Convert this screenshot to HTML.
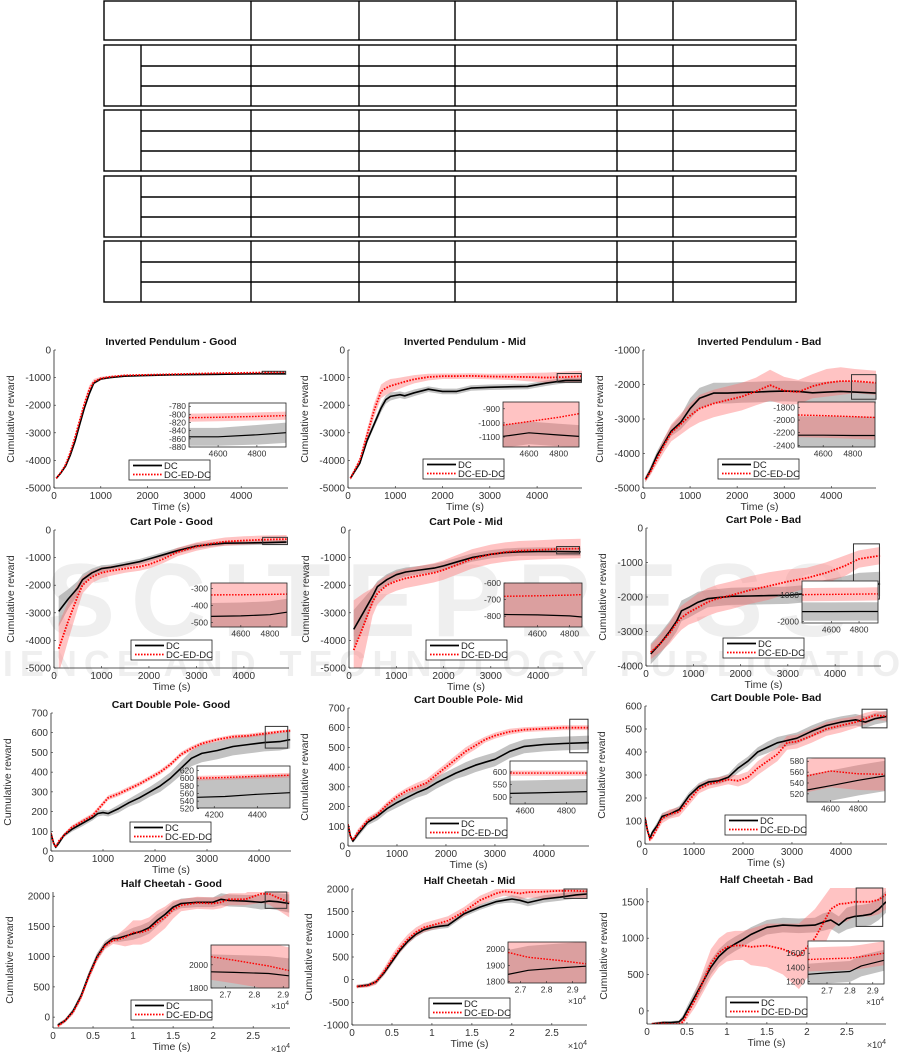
<!DOCTYPE html>
<html><head><meta charset="utf-8">
<style>
html,body{margin:0;padding:0;background:#fff;}
svg{display:block;font-family:"Liberation Sans","DejaVu Sans",sans-serif;}
</style></head>
<body>
<svg id="fig" width="901" height="1055" viewBox="0 0 901 1055" xmlns="http://www.w3.org/2000/svg">
  <g fill="#efefef" font-weight="bold">
    <text x="455" y="636" text-anchor="middle" font-size="104" letter-spacing="16">SCITEPRESS</text>
    <text x="455" y="676" text-anchor="middle" font-size="36" letter-spacing="7">SCIENCE AND TECHNOLOGY PUBLICATIONS</text>
  </g>
  <g fill="none" stroke="#000" stroke-width="1.4">
    <rect x="104" y="1" width="692" height="39"/>
    <line x1="251" y1="1" x2="251" y2="40"/>
    <line x1="359" y1="1" x2="359" y2="40"/>
    <line x1="455" y1="1" x2="455" y2="40"/>
    <line x1="617" y1="1" x2="617" y2="40"/>
    <line x1="673" y1="1" x2="673" y2="40"/>
  </g>
  <g id="tableGroups"></g>
  <g id="plots"></g>
</svg>
<script>
// ===== Inverted Pendulum - Good =====
const ipGoodTime=[50,150,250,350,450,550,650,750,850,1000,1200,1500,2000,2500,3000,3500,4000,4500,4950];
const ipGoodDC=[-4650,-4450,-4200,-3800,-3300,-2700,-2100,-1600,-1200,-1050,-1000,-950,-920,-900,-890,-880,-870,-860,-850];
const ipGoodDCSpread=[40,40,40,50,50,60,60,60,50,40,30,30,30,30,30,30,30,30,30];
const ipGoodED=[-4650,-4430,-4150,-3700,-3150,-2550,-1950,-1450,-1150,-1030,-970,-920,-900,-880,-860,-840,-830,-815,-805];
const ipGoodEDSpread=[40,40,50,60,80,100,120,150,100,60,40,30,20,20,20,20,20,20,20];
const ipGoodInsetTime=[4450,4600,4800,4950];
const ipGoodInsetDC=[-855,-855,-850,-845];
const ipGoodInsetDCSpread=[22,22,24,25];
const ipGoodInsetED=[-808,-807,-805,-803];
const ipGoodInsetEDSpread=[10,10,10,10];
// ===== Inverted Pendulum - Mid =====
const ipMidTime=[50,250,400,550,700,800,900,1000,1100,1200,1400,1700,2000,2300,2600,3000,3500,3800,4200,4600,4950];
const ipMidDC=[-4650,-4100,-3300,-2700,-2100,-1800,-1680,-1650,-1620,-1660,-1550,-1420,-1500,-1500,-1380,-1350,-1330,-1320,-1200,-1100,-1100];
const ipMidDCSpread=[60,80,100,120,150,150,150,130,120,120,120,100,100,100,100,100,100,100,100,100,100];
const ipMidED=[-4650,-4000,-3100,-2200,-1500,-1380,-1300,-1250,-1200,-1150,-1060,-980,-950,-950,-940,-960,-970,-980,-1000,-980,-950];
const ipMidEDSpread=[60,100,200,250,250,250,250,220,200,180,150,120,100,100,100,100,120,150,180,200,200];
const ipMidInsetTime=[4425,4600,4800,4937];
const ipMidInsetDC=[-1095,-1070,-1085,-1095];
const ipMidInsetDCSpread=[80,80,80,80];
const ipMidInsetED=[-1015,-990,-960,-935];
const ipMidInsetEDSpread=[230,230,230,230];
// ===== Inverted Pendulum - Bad =====
const ipBadTime=[50,150,300,450,600,800,1000,1200,1500,1800,2100,2400,2700,3000,3300,3600,3900,4200,4500,4950];
const ipBadDC=[-4750,-4500,-4050,-3700,-3350,-3100,-2700,-2400,-2250,-2250,-2230,-2220,-2200,-2190,-2200,-2240,-2220,-2200,-2220,-2250];
const ipBadDCSpread=[80,100,120,150,150,200,300,300,300,300,300,300,300,300,300,300,300,300,300,300];
const ipBadED=[-4750,-4550,-4150,-3750,-3400,-3150,-2900,-2700,-2550,-2450,-2350,-2200,-2020,-2180,-2220,-2050,-1950,-1900,-1900,-1950];
const ipBadEDSpread=[80,100,150,200,250,300,350,400,400,400,400,400,450,400,350,350,400,400,350,350];
const ipBadInsetTime=[4430,4600,4800,4950];
const ipBadInsetDC=[-2240,-2240,-2245,-2245];
const ipBadInsetDCSpread=[300,300,300,300];
const ipBadInsetED=[-1920,-1930,-1945,-1960];
const ipBadInsetEDSpread=[350,350,350,350];
// ===== Cart Pole - Good =====
const cpGoodTime=[100,300,500,600,800,1000,1200,1500,1800,2000,2300,2600,3000,3300,3600,4000,4400,4900];
const cpGoodDC=[-2950,-2500,-2100,-1800,-1550,-1400,-1350,-1250,-1150,-1050,-900,-750,-580,-520,-480,-470,-460,-440];
const cpGoodDCSpread=[550,350,250,200,150,120,100,100,100,100,100,100,100,80,80,80,80,80];
const cpGoodED=[-4300,-3300,-2400,-2000,-1700,-1550,-1480,-1400,-1330,-1250,-1050,-800,-600,-500,-420,-380,-350,-330];
const cpGoodEDSpread=[900,700,450,300,220,200,180,150,150,150,150,150,150,150,150,150,150,150];
const cpGoodInsetTime=[4395,4600,4800,4917];
const cpGoodInsetDC=[-465,-462,-455,-440];
const cpGoodInsetDCSpread=[80,80,80,80];
const cpGoodInsetED=[-337,-336,-334,-332];
const cpGoodInsetEDSpread=[200,200,200,200];
// ===== Cart Pole - Mid =====
const cpMidTime=[100,300,500,600,800,1000,1200,1500,1800,2000,2300,2600,3000,3300,3600,4000,4400,4900];
const cpMidDC=[-3600,-3000,-2400,-2050,-1800,-1620,-1520,-1450,-1380,-1300,-1150,-1000,-880,-820,-790,-780,-780,-790];
const cpMidDCSpread=[700,500,300,200,200,180,160,150,150,150,150,150,150,150,150,150,150,150];
const cpMidED=[-4350,-3500,-2600,-2300,-2000,-1850,-1750,-1650,-1550,-1450,-1250,-1050,-880,-800,-750,-720,-690,-670];
const cpMidEDSpread=[1800,1200,500,400,350,350,350,350,350,350,350,350,350,350,350,350,350,350];
const cpMidInsetTime=[4392,4600,4800,4877];
const cpMidInsetDC=[-790,-792,-798,-805];
const cpMidInsetDCSpread=[300,300,300,300];
const cpMidInsetED=[-680,-677,-673,-670];
const cpMidInsetEDSpread=[400,400,400,400];
// ===== Cart Pole - Bad =====
const cpBadTime=[100,300,500,650,750,900,1100,1300,1500,1800,2200,2600,3000,3400,3800,4200,4500,4950];
const cpBadDC=[-3650,-3350,-3000,-2700,-2400,-2300,-2150,-2050,-2020,-1980,-1970,-1960,-1950,-1900,-1800,-1750,-1650,-1620];
const cpBadDCSpread=[300,300,300,300,300,300,300,250,250,250,250,250,250,250,300,350,350,350];
const cpBadED=[-3600,-3350,-3050,-2750,-2600,-2450,-2300,-2150,-2050,-1950,-1800,-1680,-1550,-1450,-1300,-1100,-900,-800];
const cpBadEDSpread=[200,250,300,350,350,350,400,400,400,400,400,400,350,300,300,300,250,250];
const cpBadInsetTime=[4388,4600,4800,4937];
const cpBadInsetDC=[-1625,-1625,-1620,-1620];
const cpBadInsetDCSpread=[350,350,350,350];
const cpBadInsetED=[-980,-970,-960,-950];
const cpBadInsetEDSpread=[250,250,250,250];
// ===== Cart Double Pole - Good =====
const cdpGoodTime=[0,50,90,150,250,400,600,800,900,1000,1100,1300,1500,1700,1900,2100,2300,2500,2700,2900,3200,3500,3800,4100,4400,4600];
const cdpGoodDC=[90,40,20,40,80,110,140,170,190,195,190,215,245,270,300,330,370,420,470,495,510,530,540,550,555,565];
const cdpGoodDCSpread=[10,10,10,10,10,12,15,15,15,15,15,20,20,25,25,30,30,35,40,45,45,45,45,45,45,45];
const cdpGoodED=[90,40,20,50,80,120,150,180,210,240,270,290,315,340,370,400,440,490,520,545,565,580,585,595,605,610];
const cdpGoodEDSpread=[8,8,8,8,10,10,12,12,12,12,12,12,12,12,12,12,12,12,12,10,10,10,10,10,8,8];
const cdpGoodInsetTime=[4120,4250,4400,4552];
const cdpGoodInsetDC=[550,552,558,562];
const cdpGoodInsetDCSpread=[48,48,48,48];
const cdpGoodInsetED=[600,602,605,608];
const cdpGoodInsetEDSpread=[6,6,6,6];
// ===== Cart Double Pole - Mid =====
const cdpMidTime=[0,50,100,200,400,600,800,1000,1200,1400,1600,1800,2000,2200,2400,2600,2800,3000,3300,3600,4000,4400,4950];
const cdpMidDC=[110,50,25,60,120,150,190,220,245,270,290,320,345,370,390,410,425,440,480,505,515,520,525];
const cdpMidDCSpread=[10,10,10,15,15,20,20,25,25,25,30,30,30,30,35,35,35,35,35,35,35,35,35];
const cdpMidED=[110,50,30,70,130,160,210,250,280,300,320,360,400,440,480,510,540,560,580,590,595,600,600];
const cdpMidEDSpread=[10,10,10,15,15,15,15,15,15,20,20,20,20,20,20,20,15,15,15,12,12,12,12];
const cdpMidInsetTime=[4527,4650,4800,4900];
const cdpMidInsetDC=[515,517,520,522];
const cdpMidInsetDCSpread=[50,50,50,50];
const cdpMidInsetED=[595,595,595,595];
const cdpMidInsetEDSpread=[10,10,10,10];
// ===== Cart Double Pole - Bad =====
const cdpBadTime=[0,50,100,150,250,350,500,700,900,1100,1300,1500,1700,1900,2100,2300,2500,2700,2900,3100,3400,3700,4000,4300,4500,4700,4940];
const cdpBadDC=[115,60,25,50,80,120,130,150,210,250,270,275,290,330,360,400,420,440,450,460,490,515,530,540,530,545,555];
const cdpBadDCSpread=[10,10,10,10,15,15,15,15,15,15,15,15,15,20,20,20,25,25,25,25,25,25,25,25,25,25,25];
const cdpBadED=[115,60,20,30,70,110,130,140,190,240,260,270,280,275,290,330,360,390,440,445,470,500,515,530,545,560,555];
const cdpBadEDSpread=[10,10,10,10,15,20,20,20,20,20,20,20,20,25,25,30,30,30,30,30,30,30,30,25,25,20,20];
const cdpBadInsetTime=[4431,4600,4800,4993];
const cdpBadInsetDC=[527,535,545,553];
const cdpBadInsetDCSpread=[28,28,28,28];
const cdpBadInsetED=[553,562,557,556];
const cdpBadInsetEDSpread=[30,30,30,30];
// ===== Half Cheetah - Good =====
const hcGoodTime=[600,1500,2500,3500,4500,5500,6500,7500,8000,9000,10000,11000,12000,13000,14000,15000,16000,18000,20000,21000,22000,24000,26000,27000,28000,29500];
const hcGoodDC=[-130,-60,100,350,700,1000,1200,1300,1300,1340,1380,1420,1480,1600,1700,1820,1880,1900,1900,1950,1930,1920,1900,1920,1910,1880];
const hcGoodDCSpread=[30,30,40,50,60,60,60,50,60,80,100,100,100,100,80,80,80,80,80,100,100,100,120,130,140,150];
const hcGoodED=[-150,-60,80,330,680,980,1180,1270,1280,1320,1400,1400,1450,1560,1650,1780,1850,1890,1880,1900,1950,1950,2040,2040,1980,1900];
const hcGoodEDSpread=[30,30,40,50,60,60,60,60,80,150,200,200,200,200,180,150,100,100,100,100,100,100,150,180,200,250];
const hcGoodInsetTime=[26500,27300,28500,29200];
const hcGoodInsetDC=[1940,1935,1925,1905];
const hcGoodInsetDCSpread=[150,150,150,150];
const hcGoodInsetED=[2070,2040,1990,1950];
const hcGoodInsetEDSpread=[200,200,200,200];
// ===== Half Cheetah - Mid =====
const hcMidTime=[600,2000,3000,4000,5000,6000,7000,8000,9000,10000,11000,12000,14000,16000,18000,19000,20000,21000,22000,24000,26000,28000,29400];
const hcMidDC=[-150,-120,-50,150,400,650,850,1000,1100,1150,1180,1200,1450,1600,1720,1750,1780,1750,1700,1780,1820,1870,1890];
const hcMidDCSpread=[40,40,50,60,60,60,60,60,60,60,60,60,60,60,60,60,80,80,80,80,80,80,80];
const hcMidED=[-150,-130,-50,180,450,700,900,1050,1150,1200,1250,1300,1500,1750,1900,1950,1930,1900,1930,1940,1960,1960,1950];
const hcMidEDSpread=[40,40,60,80,100,100,100,100,100,100,100,100,100,100,100,100,100,120,120,150,150,150,150];
const hcMidInsetTime=[26520,27300,28500,29510];
const hcMidInsetDC=[1845,1870,1885,1895];
const hcMidInsetDCSpread=[150,150,150,150];
const hcMidInsetED=[1980,1950,1930,1910];
const hcMidInsetEDSpread=[250,250,250,250];
// ===== Half Cheetah - Bad =====
const hcBadTime=[600,2000,3000,4000,4500,5000,6000,7000,8000,9000,10000,11000,12000,13000,15000,17000,19000,21000,22000,23000,24000,25000,26000,27000,28000,29000,29900];
const hcBadDC=[-180,-160,-160,-150,-100,0,200,400,600,750,850,920,980,1050,1150,1180,1170,1180,1220,1250,1180,1270,1300,1310,1330,1400,1500];
const hcBadDCSpread=[20,20,20,20,40,60,80,100,100,100,100,100,100,100,100,100,100,100,120,120,120,150,150,150,150,150,150];
const hcBadED=[-180,-170,-180,-180,-150,-50,150,400,650,800,880,900,900,880,900,850,750,1000,1200,1400,1470,1480,1500,1500,1500,1530,1600];
const hcBadEDSpread=[20,20,20,20,40,60,100,150,200,200,200,200,200,250,300,350,450,400,350,300,250,250,200,200,200,200,200];
const hcBadInsetTime=[26170,27000,28000,28500,29490];
const hcBadInsetDC=[1300,1320,1340,1420,1500];
const hcBadInsetDCSpread=[150,150,150,150,150];
const hcBadInsetED=[1510,1520,1530,1550,1600];
const hcBadInsetEDSpread=[170,170,170,170,170];

// tick label arrays
const ticks5k=[0,1000,2000,3000,4000];
const ticksHC=[0,5000,10000,15000,20000,25000];
const ticksHCLabels=['0','0.5','1','1.5','2','2.5'];
const ticksHCInset=[27000,28000,29000];
const ticksHCInsetLabels=['2.7','2.8','2.9'];

const NS='http://www.w3.org/2000/svg';
function mk(tag,attrs,parent){const e=document.createElementNS(NS,tag);for(const k in attrs)e.setAttribute(k,attrs[k]);if(parent)parent.appendChild(e);return e;}

const tg=document.getElementById('tableGroups');
const groupTops=[45,110,176,241];
const colX=[141,251,359,455,617,673];
groupTops.forEach(function(t,gi){
  const g=mk('g',{fill:'none',stroke:'#000','stroke-width':1.4},tg);
  
  
  const r=mk('rect',{x:104,y:t,width:692,height:61},g);
  
  
  colX.forEach(function(cx){const l=mk('line',{x1:cx,y1:t,x2:cx,y2:t+61},g);
    
    });
  [21,41].forEach(function(dy){const l=mk('line',{x1:141,y1:t+dy,x2:796,y2:t+dy},g);
    
    });
});

const plotsG=document.getElementById('plots');
const configs=[
 {key:'ip-good',title:'Inverted Pendulum - Good',L:54,R:288,T:350,B:488,xmin:0,xmax:5000,ymin:-5000,ymax:0,xt:ticks5k,yt:[0,-1000,-2000,-3000,-4000,-5000],
  X:ipGoodTime,DC:ipGoodDC,DCs:ipGoodDCSpread,ED:ipGoodED,EDs:ipGoodEDSpread,
  leg:[129,460],ins:{L:189,R:286,T:403,B:447,xmin:4450,xmax:4950,ymin:-880,ymax:-772,xt:[4600,4800],yt:[-780,-800,-820,-840,-860,-880],X:ipGoodInsetTime,DC:ipGoodInsetDC,DCs:ipGoodInsetDCSpread,ED:ipGoodInsetED,EDs:ipGoodInsetEDSpread}},
 {key:'ip-mid',title:'Inverted Pendulum - Mid',L:348,R:582,T:350,B:488,xmin:0,xmax:4950,ymin:-5000,ymax:0,xt:ticks5k,yt:[0,-1000,-2000,-3000,-4000,-5000],
  X:ipMidTime,DC:ipMidDC,DCs:ipMidDCSpread,ED:ipMidED,EDs:ipMidEDSpread,
  leg:[423,459],ins:{L:503,R:579,T:402,B:447,xmin:4425,xmax:4937,ymin:-1170,ymax:-852,xt:[4600,4800],yt:[-900,-1000,-1100],X:ipMidInsetTime,DC:ipMidInsetDC,DCs:ipMidInsetDCSpread,ED:ipMidInsetED,EDs:ipMidInsetEDSpread}},
 {key:'ip-bad',title:'Inverted Pendulum - Bad',L:643,R:876,T:350,B:488,xmin:0,xmax:4950,ymin:-5000,ymax:-1000,xt:ticks5k,yt:[-1000,-2000,-3000,-4000,-5000],
  X:ipBadTime,DC:ipBadDC,DCs:ipBadDCSpread,ED:ipBadED,EDs:ipBadEDSpread,
  leg:[718,459],ins:{L:798,R:875,T:402,B:447,xmin:4430,xmax:4950,ymin:-2427,ymax:-1714,xt:[4600,4800],yt:[-1800,-2000,-2200,-2400],X:ipBadInsetTime,DC:ipBadInsetDC,DCs:ipBadInsetDCSpread,ED:ipBadInsetED,EDs:ipBadInsetEDSpread}},
 {key:'cp-good',title:'Cart Pole - Good',L:54,R:289,T:530,B:668,xmin:0,xmax:4950,ymin:-5000,ymax:0,xt:ticks5k,yt:[0,-1000,-2000,-3000,-4000,-5000],
  X:cpGoodTime,DC:cpGoodDC,DCs:cpGoodDCSpread,ED:cpGoodED,EDs:cpGoodEDSpread,
  leg:[131,640],ins:{L:211,R:287,T:583,B:627,xmin:4395,xmax:4917,ymin:-528,ymax:-266,xt:[4600,4800],yt:[-300,-400,-500],X:cpGoodInsetTime,DC:cpGoodInsetDC,DCs:cpGoodInsetDCSpread,ED:cpGoodInsetED,EDs:cpGoodInsetEDSpread}},
 {key:'cp-mid',title:'Cart Pole - Mid',L:349,R:583,T:530,B:668,xmin:0,xmax:4950,ymin:-5000,ymax:0,xt:ticks5k,yt:[0,-1000,-2000,-3000,-4000,-5000],
  X:cpMidTime,DC:cpMidDC,DCs:cpMidDCSpread,ED:cpMidED,EDs:cpMidEDSpread,
  leg:[426,640],ins:{L:504,R:582,T:583,B:627,xmin:4392,xmax:4877,ymin:-865,ymax:-600,xt:[4600,4800],yt:[-600,-700,-800],X:cpMidInsetTime,DC:cpMidInsetDC,DCs:cpMidInsetDCSpread,ED:cpMidInsetED,EDs:cpMidInsetEDSpread}},
 {key:'cp-bad',title:'Cart Pole - Bad',L:646,R:881,T:528,B:666,xmin:0,xmax:4970,ymin:-4000,ymax:0,xt:ticks5k,yt:[0,-1000,-2000,-3000,-4000],
  X:cpBadTime,DC:cpBadDC,DCs:cpBadDCSpread,ED:cpBadED,EDs:cpBadEDSpread,
  leg:[723,638],ins:{L:802,R:878,T:581,B:623,xmin:4388,xmax:4937,ymin:-2060,ymax:-460,xt:[4600,4800],yt:[-1000,-2000],X:cpBadInsetTime,DC:cpBadInsetDC,DCs:cpBadInsetDCSpread,ED:cpBadInsetED,EDs:cpBadInsetEDSpread}},
 {key:'cdp-good',title:'Cart Double Pole- Good',L:51,R:291,T:713,B:851,xmin:0,xmax:4615,ymin:0,ymax:700,xt:ticks5k,yt:[0,100,200,300,400,500,600,700],
  X:cdpGoodTime,DC:cdpGoodDC,DCs:cdpGoodDCSpread,ED:cdpGoodED,EDs:cdpGoodEDSpread,
  leg:[130,822],ins:{L:197,R:290,T:766,B:808,xmin:4120,xmax:4552,ymin:522,ymax:632,xt:[4200,4400],yt:[520,540,560,580,600,620],X:cdpGoodInsetTime,DC:cdpGoodInsetDC,DCs:cdpGoodInsetDCSpread,ED:cdpGoodInsetED,EDs:cdpGoodInsetEDSpread}},
 {key:'cdp-mid',title:'Cart Double Pole- Mid',L:348,R:589,T:708,B:846,xmin:0,xmax:4920,ymin:0,ymax:700,xt:ticks5k,yt:[0,100,200,300,400,500,600,700],
  X:cdpMidTime,DC:cdpMidDC,DCs:cdpMidDCSpread,ED:cdpMidED,EDs:cdpMidEDSpread,
  leg:[426,818],ins:{L:510,R:587,T:761,B:804,xmin:4527,xmax:4900,ymin:473,ymax:643,xt:[4600,4800],yt:[500,550,600],X:cdpMidInsetTime,DC:cdpMidInsetDC,DCs:cdpMidInsetDCSpread,ED:cdpMidInsetED,EDs:cdpMidInsetEDSpread}},
 {key:'cdp-bad',title:'Cart Double Pole- Bad',L:645,R:887,T:706,B:844,xmin:0,xmax:4940,ymin:0,ymax:600,xt:ticks5k,yt:[0,100,200,300,400,500,600],
  X:cdpBadTime,DC:cdpBadDC,DCs:cdpBadDCSpread,ED:cdpBadED,EDs:cdpBadEDSpread,
  leg:[725,815],ins:{L:807,R:885,T:758,B:802,xmin:4431,xmax:4993,ymin:505,ymax:586,xt:[4600,4800],yt:[520,540,560,580],X:cdpBadInsetTime,DC:cdpBadInsetDC,DCs:cdpBadInsetDCSpread,ED:cdpBadInsetED,EDs:cdpBadInsetEDSpread}},
 {key:'hc-good',title:'Half Cheetah - Good',L:53,R:290,T:892,B:1028,xmin:0,xmax:29600,ymin:-180,ymax:2070,xt:ticksHC,xtl:ticksHCLabels,yt:[0,500,1000,1500,2000],
  X:hcGoodTime,DC:hcGoodDC,DCs:hcGoodDCSpread,ED:hcGoodED,EDs:hcGoodEDSpread,
  leg:[131,1000],ins:{L:211,R:289,T:945,B:988,xmin:26500,xmax:29200,ymin:1800,ymax:2171,xt:ticksHCInset,xtl:ticksHCInsetLabels,yt:[1800,2000],X:hcGoodInsetTime,DC:hcGoodInsetDC,DCs:hcGoodInsetDCSpread,ED:hcGoodInsetED,EDs:hcGoodInsetEDSpread}},
 {key:'hc-mid',title:'Half Cheetah - Mid',L:352,R:587,T:889,B:1025,xmin:0,xmax:29400,ymin:-1000,ymax:2000,xt:ticksHC,xtl:ticksHCLabels,yt:[-1000,-500,0,500,1000,1500,2000],
  X:hcMidTime,DC:hcMidDC,DCs:hcMidDCSpread,ED:hcMidED,EDs:hcMidEDSpread,
  leg:[429,998],ins:{L:508,R:586,T:942,B:983,xmin:26520,xmax:29510,ymin:1792,ymax:2044,xt:ticksHCInset,xtl:ticksHCInsetLabels,yt:[1800,1900,2000],X:hcMidInsetTime,DC:hcMidInsetDC,DCs:hcMidInsetDCSpread,ED:hcMidInsetED,EDs:hcMidInsetEDSpread}},
 {key:'hc-bad',title:'Half Cheetah - Bad',L:647,R:886,T:888,B:1024,xmin:0,xmax:29900,ymin:-180,ymax:1690,xt:ticksHC,xtl:ticksHCLabels,yt:[0,500,1000,1500],
  X:hcBadTime,DC:hcBadDC,DCs:hcBadDCSpread,ED:hcBadED,EDs:hcBadEDSpread,
  leg:[726,997],ins:{L:808,R:884,T:941,B:984,xmin:26170,xmax:29490,ymin:1162,ymax:1774,xt:ticksHCInset,xtl:ticksHCInsetLabels,yt:[1200,1400,1600],X:hcBadInsetTime,DC:hcBadInsetDC,DCs:hcBadInsetDCSpread,ED:hcBadInsetED,EDs:hcBadInsetEDSpread}}
];

let clipId=0;
function drawSeries(parent,c,sx,sy,small){
  clipId++;
  const cp=mk('clipPath',{id:'clip'+clipId},parent);
  mk('rect',{x:c.L,y:c.T,width:c.R-c.L,height:c.B-c.T},cp);
  const g=mk('g',{'clip-path':'url(#clip'+clipId+')'},parent);
  
  
  function band(X,M,S){
    let d='';
    for(let i=0;i<X.length;i++)d+=(i?'L':'M')+sx(X[i]).toFixed(1)+','+sy(M[i]+S[i]).toFixed(1);
    for(let i=X.length-1;i>=0;i--)d+='L'+sx(X[i]).toFixed(1)+','+sy(M[i]-S[i]).toFixed(1);
    return d+'Z';
  }
  function line(X,M){let d='';for(let i=0;i<X.length;i++)d+=(i?'L':'M')+sx(X[i]).toFixed(1)+','+sy(M[i]).toFixed(1);return d;}
  const b1=mk('path',{d:band(c.X,c.DC,c.DCs),fill:'#9a9a9a','fill-opacity':0.6,stroke:'none'},g);
  
  
  const b2=mk('path',{d:band(c.X,c.ED,c.EDs),fill:'#ff6f6f','fill-opacity':0.42,stroke:'none'},g);
  
  
  const l1=mk('path',{d:line(c.X,c.DC),fill:'none',stroke:'#000','stroke-width':small?1.2:1.6,'stroke-linejoin':'round'},g);
  
  
  const l2=mk('path',{d:line(c.X,c.ED),fill:'none',stroke:'#ff0000','stroke-width':small?1.4:1.8,'stroke-dasharray':'1.6,1.4'},g);
  
  
}

function drawAxes(parent,c,sx,sy,fs,full){
  const g=mk('g',{'font-size':fs,fill:'#333'},parent);
  
  
  if(full){
    const bx=mk('rect',{x:c.L,y:c.T,width:c.R-c.L,height:c.B-c.T,fill:'none',stroke:'#222','stroke-width':0.8},g);
    
    
  } else {
    const ay=mk('line',{x1:c.L,y1:c.T,x2:c.L,y2:c.B,stroke:'#222','stroke-width':0.8},g);
    
    
    const ax=mk('line',{x1:c.L,y1:c.B,x2:c.R,y2:c.B,stroke:'#222','stroke-width':0.8},g);
    
    
  }
  c.xt.forEach(function(v,i){
    const x=sx(v);
    mk('line',{x1:x,y1:c.B,x2:x,y2:c.B-2,stroke:'#222','stroke-width':0.6},g);
    const t=mk('text',{x:x,y:c.B+fs+1,'text-anchor':'middle'},g);
    t.textContent=c.xtl?c.xtl[i]:String(v);
    
    
  });
  c.yt.forEach(function(v){
    const y=sy(v);
    mk('line',{x1:c.L,y1:y,x2:c.L+2,y2:y,stroke:'#222','stroke-width':0.6},g);
    const t=mk('text',{x:c.L-3,y:y+fs*0.35,'text-anchor':'end'},g);
    t.textContent=String(v);
    
    
  });
}

configs.forEach(function(c){
  const pg=mk('g',{},plotsG);
  
  
  const sx=function(v){return c.L+(v-c.xmin)/(c.xmax-c.xmin)*(c.R-c.L);};
  const sy=function(v){return c.B-(v-c.ymin)/(c.ymax-c.ymin)*(c.B-c.T);};
  drawSeries(pg,c,sx,sy,false);
  drawAxes(pg,c,sx,sy,10,false);
  const tt=mk('text',{x:(c.L+c.R)/2,y:c.T-5,'text-anchor':'middle','font-size':10.5,'font-weight':'bold',fill:'#111'},pg);
  tt.textContent=c.title;
  
  
  const xl=mk('text',{x:(c.L+c.R)/2,y:c.B+22,'text-anchor':'middle','font-size':10.5,fill:'#333'},pg);
  xl.textContent='Time (s)';
  
  
  const yl=mk('text',{x:c.L-40,y:(c.T+c.B)/2,'text-anchor':'middle','font-size':10.5,fill:'#333',transform:'rotate(-90 '+(c.L-40)+' '+((c.T+c.B)/2)+')'},pg);
  yl.textContent='Cumulative reward';
  
  
  if(c.xtl){
    const ex=mk('text',{x:c.R,y:c.B+24,'text-anchor':'end','font-size':9,fill:'#333'},pg);
    ex.innerHTML='×10<tspan dy="-4" font-size="7">4</tspan>';
    
    
  }
  const I=c.ins;
  const zx1=Math.max(c.L,sx(I.xmin)),zx2=Math.min(c.R,sx(I.xmax));
  const zy1=Math.max(c.T,sy(I.ymax)),zy2=Math.min(c.B,sy(I.ymin));
  const zb=mk('rect',{x:zx1,y:zy1,width:zx2-zx1,height:Math.max(zy2-zy1,3),fill:'none',stroke:'#333','stroke-width':1},pg);
  
  
  const ig=mk('g',{},pg);
  
  
  const bg=mk('rect',{x:I.L,y:I.T,width:I.R-I.L,height:I.B-I.T,fill:'#fff'},ig);
  
  
  const isx=function(v){return I.L+(v-I.xmin)/(I.xmax-I.xmin)*(I.R-I.L);};
  const isy=function(v){return I.B-(v-I.ymin)/(I.ymax-I.ymin)*(I.B-I.T);};
  drawSeries(ig,I,isx,isy,true);
  drawAxes(ig,I,isx,isy,8.5,true);
  if(I.xtl){
    const ex=mk('text',{x:I.R,y:I.B+21,'text-anchor':'end','font-size':8.5,fill:'#333'},ig);
    ex.innerHTML='×10<tspan dy="-4" font-size="6.5">4</tspan>';
    
    
  }
  const lx=c.leg[0],ly=c.leg[1];
  const lg=mk('g',{},pg);
  
  
  mk('rect',{x:lx,y:ly,width:81,height:20,fill:'#fff',stroke:'#222','stroke-width':0.8},lg);
  const e1=mk('line',{x1:lx+4,y1:ly+5.5,x2:lx+33,y2:ly+5.5,stroke:'#000','stroke-width':1.8},lg);
  
  
  const t1=mk('text',{x:lx+35,y:ly+9,'font-size':9.5,fill:'#222'},lg);
  t1.textContent='DC';
  
  
  const e2=mk('line',{x1:lx+4,y1:ly+14.5,x2:lx+33,y2:ly+14.5,stroke:'#ff0000','stroke-width':1.8,'stroke-dasharray':'1.6,1.4'},lg);
  
  
  const t2=mk('text',{x:lx+35,y:ly+18,'font-size':9.5,fill:'#222'},lg);
  t2.textContent='DC-ED-DC';
  
  
});
</script>
</body></html>
